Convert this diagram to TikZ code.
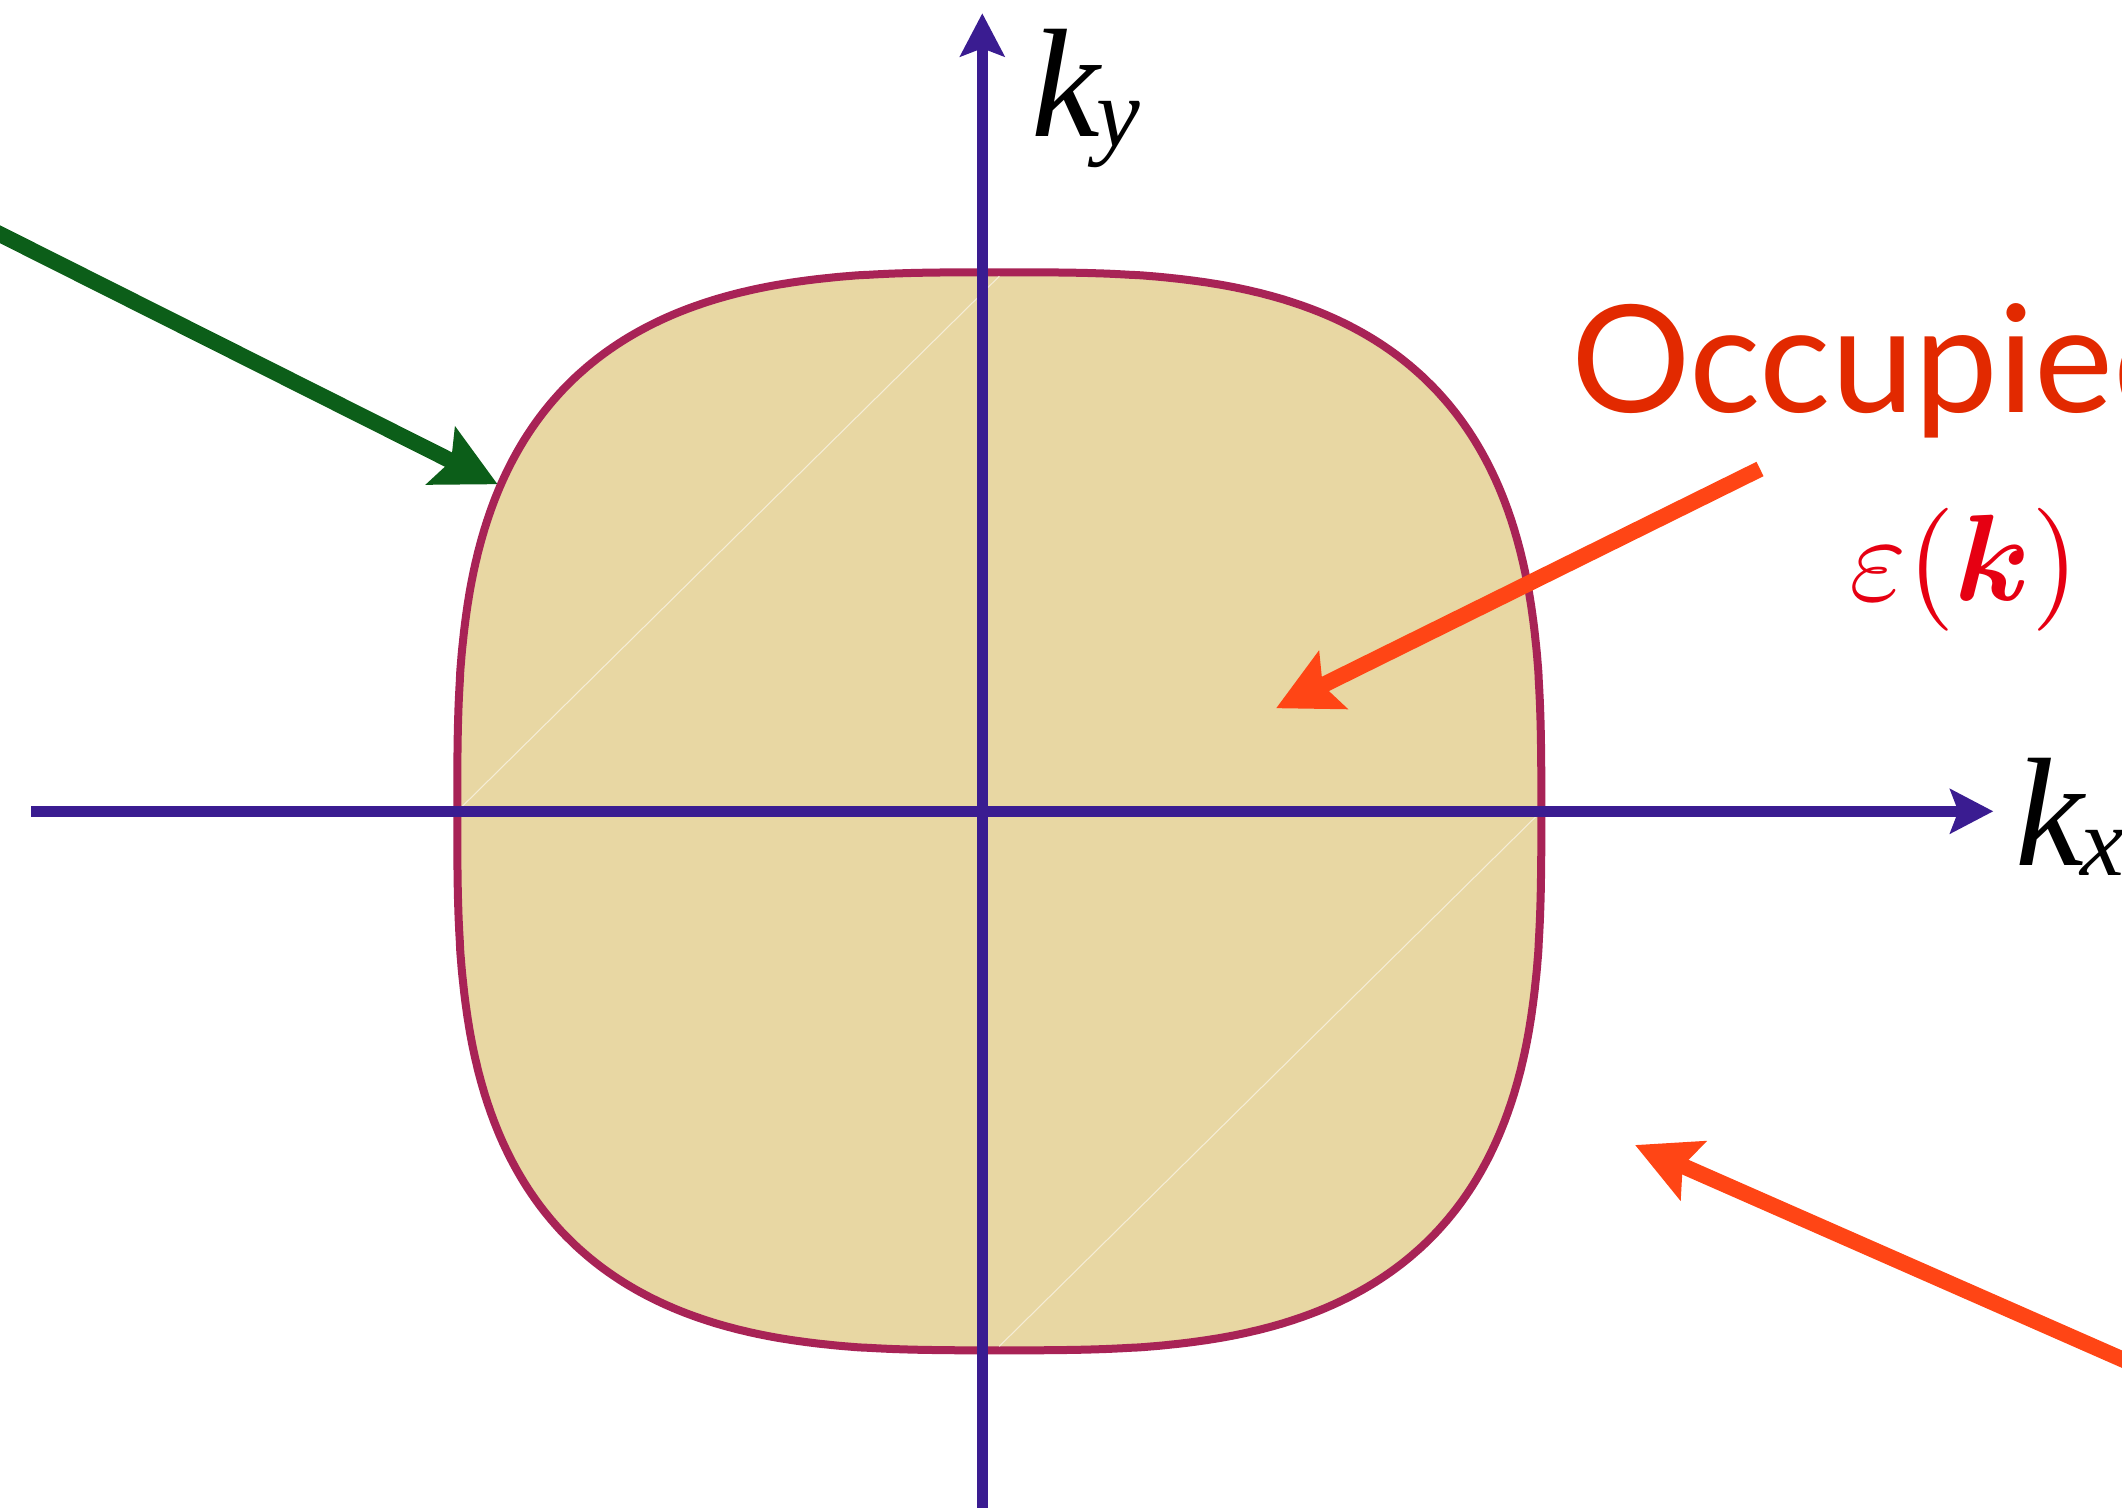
\documentclass[tikz,border=0pt]{standalone}
\usepackage{fontspec}
\usepackage{bm}
\newfontfamily\occfont{Lato}
\newfontfamily\kfont{Liberation Serif}
\definecolor{axisline}{HTML}{3A1C91}
\definecolor{fsline}{HTML}{A82356}
\definecolor{fsfill}{HTML}{E8D7A3}
\definecolor{greenarr}{HTML}{0C5E19}
\definecolor{orangearr}{HTML}{FF4515}
\definecolor{occred}{HTML}{E22900}
\definecolor{epsred}{HTML}{E60012}
\newcommand{\klabel}[1]{{\kfont\itshape\fontsize{44}{48}\selectfont k\kern-0.04cm\raisebox{-0.1cm}{\fontsize{28}{32}\selectfont #1}}}
\usetikzlibrary{arrows.meta}

\begin{document}
\begin{tikzpicture}[x=1cm,y=1cm,
    axis/.style={axisline,line width=0.11cm,-{Stealth[length=0.43cm,width=0.44cm,inset=0.08cm]}},
    pointer/.style={line width=0.16cm,-{Stealth[length=0.63cm,width=0.63cm,inset=0.11cm]}}]
    \useasboundingbox (-9.823,-6.957) rectangle (11.397,8.113);
    \clip (-9.823,-6.957) rectangle (11.397,8.113);
    % Fermi surface
    \draw[fsline,line width=0.08cm,fill=fsfill] plot[domain=0.25:359.75,samples=720]
      ({0.17+5.42*sign(cos(\x))*pow(abs(cos(\x)),2/3)},{5.39*sign(sin(\x))*pow(abs(sin(\x)),2/3)}) -- cycle;
    \coordinate (fsL) at (-5.25,0);
    \coordinate (fsR) at (5.59,0);
    \coordinate (fsT) at (0.17,5.35);
    \coordinate (fsB) at (0.17,-5.35);
    \draw[fsfill!45!white,line width=0.3pt] (fsL) -- (fsT);
    \draw[fsfill!45!white,line width=0.3pt] (fsR) -- (fsB);
    % axes
    \coordinate (xl) at (-9.51,0);
    \coordinate (xr) at (10.11,0);
    \coordinate (yb) at (0,-7.2);
    \coordinate (yt) at (0,7.98);
    \draw[axis] (xl) -- (xr);
    \draw[axis] (yb) -- (yt);
    \node[anchor=base west] (kx) at (10.21,-0.54) {\klabel{x}};
    \node[anchor=base west] (ky) at (0.37,6.75) {\klabel{y}};
    % pointers
    \coordinate (gtail) at (-10.22,5.97);
    \coordinate (ghead) at (-4.846,3.27);
    \coordinate (etail) at (7.777,3.423);
    \coordinate (ehead) at (2.937,1.03);
    \coordinate (otail) at (11.98,-5.735);
    \coordinate (ohead) at (6.527,-3.337);
    \draw[pointer,greenarr] (gtail) -- (ghead);
    \draw[pointer,orangearr] (etail) -- (ehead);
    \draw[pointer,orangearr] (otail) -- (ohead);
    \node[anchor=base west,occred,font=\occfont\fontsize{42.5}{48}\selectfont,inner sep=0pt] (occ) at (5.88,3.99) {Occupied};
    \node[anchor=base west,epsred,inner sep=0pt,scale=3.5,transform shape] (eps) at (8.65,2.11) {$\varepsilon(\bm{k})$};
\end{tikzpicture}
\end{document}
